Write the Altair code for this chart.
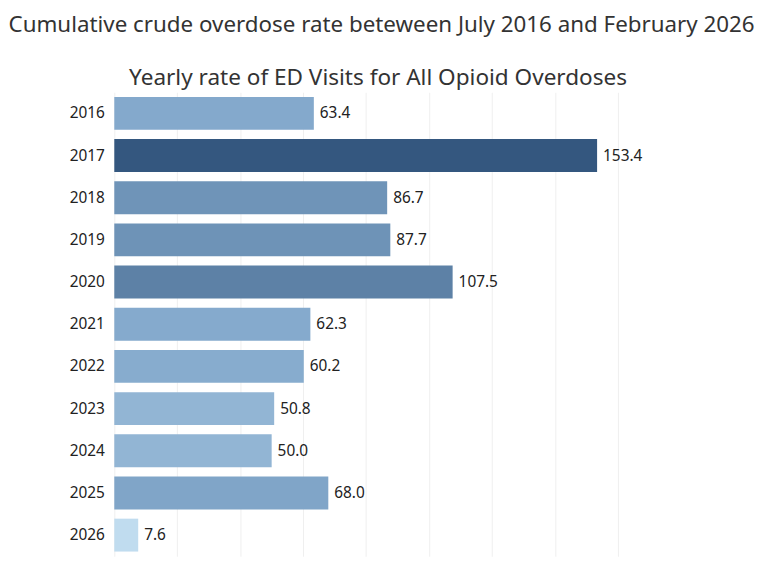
import altair as alt
import pandas as pd

years = ["2016", "2017", "2018", "2019", "2020", "2021", "2022", "2023", "2024", "2025", "2026"]
rates = [63.4, 153.4, 86.7, 87.7, 107.5, 62.3, 60.2, 50.8, 50.0, 68.0, 7.6]

main_title = "Cumulative crude overdose rate beteween July 2016 and February 2026"
sub_title = "Yearly rate of ED Visits for All Opioid Overdoses"

df = pd.DataFrame({"year": years, "rate": rates})
df["label"] = [f"{v:.1f}" for v in rates]

FONT = "Noto Sans"

y_enc = alt.Y("year:N", sort=years, title=None,
              scale=alt.Scale(paddingInner=0.22, paddingOuter=0.11),
              axis=alt.Axis(labelFont=FONT, labelFontSize=15.5, labelColor="#222222",
                            ticks=False, domain=False, labelPadding=10, grid=False))
x_enc = alt.X("rate:Q", title=None,
              scale=alt.Scale(domain=[0, 177.7], nice=False, zero=True),
              axis=alt.Axis(labels=False, ticks=False, domain=False, grid=True,
                            values=[0, 20, 40, 60, 80, 100, 120, 140, 160],
                            gridColor="#efefef", gridWidth=1))

bars = alt.Chart(df).mark_bar().encode(
    y=y_enc,
    x=x_enc,
    color=alt.Color("rate:Q", legend=None,
                    scale=alt.Scale(domain=[7.6, 63.4, 153.4],
                                    range=["#c0dcef", "#84a9cc", "#34577f"],
                                    interpolate="rgb")),
)

labels = alt.Chart(df).mark_text(align="left", baseline="middle", dx=6,
                                 font=FONT, fontSize=15.5, color="#222222").encode(
    y=alt.Y("year:N", sort=years),
    x="rate:Q",
    text="label:N",
)

inner = alt.layer(bars, labels).properties(
    width=563, height=467,
    title=alt.TitleParams(sub_title, font=FONT, fontSize=22.7, fontWeight="normal",
                          color="#333333", anchor="middle", offset=3, dx=-16),
)

chart = alt.vconcat(inner).properties(
    title=alt.TitleParams(main_title, font=FONT, fontSize=22.5, fontWeight="normal",
                          color="#333333", anchor="start", frame="bounds", dx=-61,
                          offset=30),
    padding={"left": 0, "top": 4, "right": 5, "bottom": 5},
).configure_view(stroke=None)

chart.save("out.html", embed_options={"renderer": "svg", "actions": False})
